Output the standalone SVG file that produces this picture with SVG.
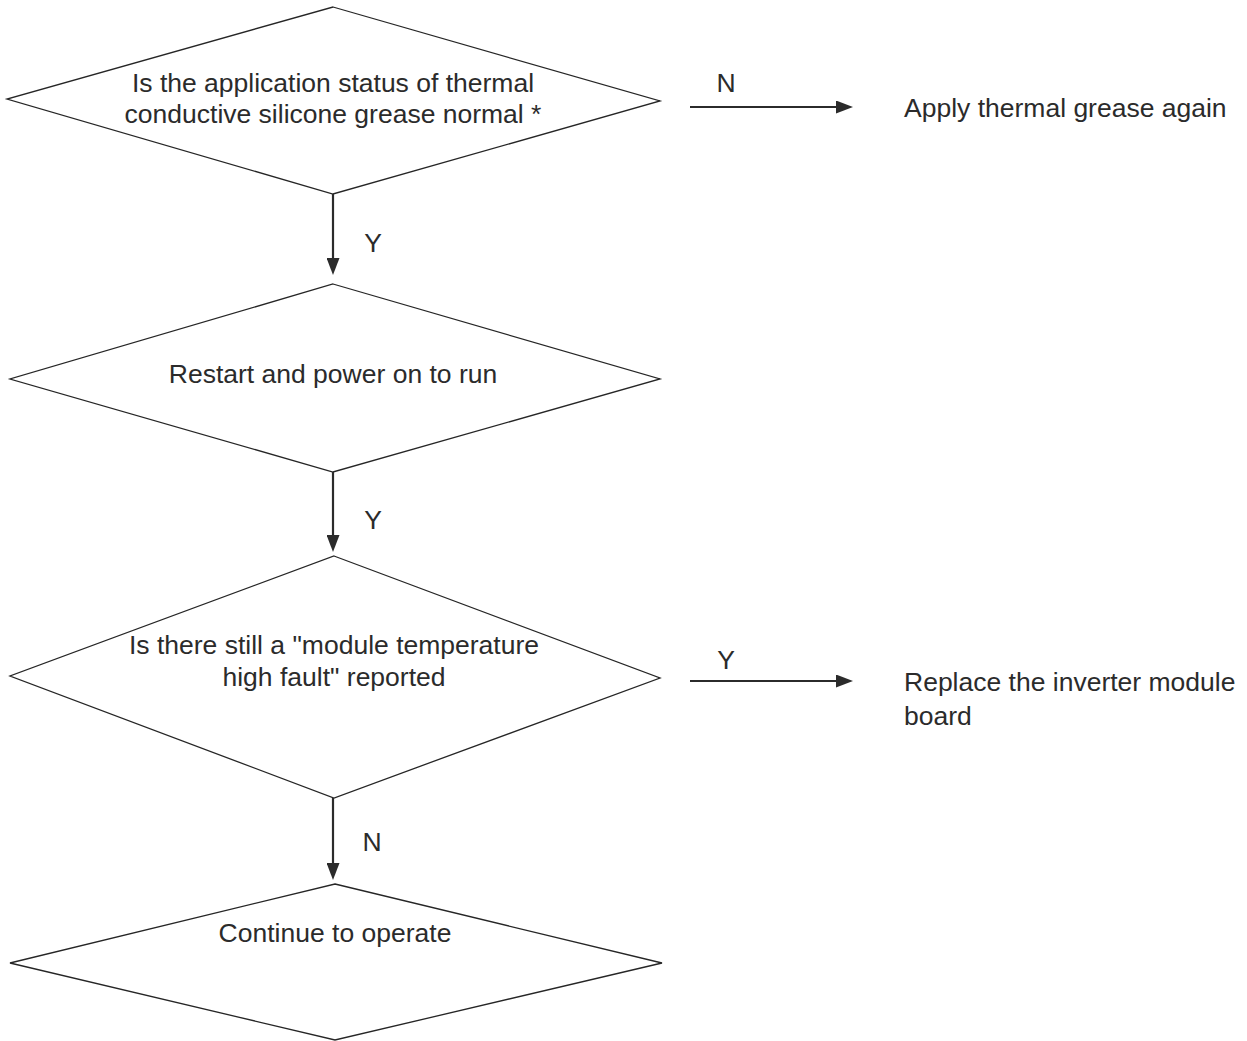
<svg xmlns="http://www.w3.org/2000/svg" width="1247" height="1041" viewBox="0 0 1247 1041">
<style>
.shape{fill:#fff;stroke:#262626;stroke-width:1.3;stroke-linejoin:miter}
.conn{stroke:#2b2b2b;stroke-width:2.2;fill:none}
text{font-family:"Liberation Sans",Arial,sans-serif;font-size:26.5px;fill:#2b2b2b}
.c{text-anchor:middle}
</style>
<defs>
<marker id="ah" viewBox="0 0 17 13" markerWidth="17" markerHeight="13" refX="2" refY="6.5" orient="auto" markerUnits="userSpaceOnUse">
<path d="M0,0 L17,6.5 L0,13 z" fill="#2b2b2b"/>
</marker>
</defs>
<rect width="1247" height="1041" fill="#fff"/>
<g id="n1">
<polygon class="shape" points="333,7 660,101 333,194 7,99"/>
<text class="c" x="333" y="92">Is the application status of thermal</text>
<text class="c" x="333" y="123">conductive silicone grease normal *</text>
</g>
<g id="n2">
<polygon class="shape" points="333,284 660,379 333,472 10,379"/>
<text class="c" x="333" y="383">Restart and power on to run</text>
</g>
<g id="n3">
<polygon class="shape" points="334,556 660,678 334,798 10,676"/>
<text class="c" x="334" y="654">Is there still a "module temperature</text>
<text class="c" x="334" y="686">high fault" reported</text>
</g>
<g id="n4">
<polygon class="shape" points="335,884 662,963 335,1040 10,963"/>
<text class="c" x="335" y="942">Continue to operate</text>
</g>
<g id="n5">
<text x="904" y="117">Apply thermal grease again</text>
</g>
<g id="n6">
<text x="904" y="691">Replace the inverter module</text>
<text x="904" y="725">board</text>
</g>
<g id="connectors">
<line class="conn" x1="333" y1="194" x2="333" y2="260" marker-end="url(#ah)"/>
<line class="conn" x1="333" y1="472" x2="333" y2="537" marker-end="url(#ah)"/>
<line class="conn" x1="333" y1="798" x2="333" y2="865" marker-end="url(#ah)"/>
<line class="conn" x1="690" y1="107" x2="838" y2="107" marker-end="url(#ah)"/>
<line class="conn" x1="690" y1="681" x2="838" y2="681" marker-end="url(#ah)"/>
<text class="c" x="373" y="252">Y</text>
<text class="c" x="373" y="529">Y</text>
<text class="c" x="372" y="851">N</text>
<text class="c" x="726" y="92">N</text>
<text class="c" x="726" y="669">Y</text>
</g>
</svg>
